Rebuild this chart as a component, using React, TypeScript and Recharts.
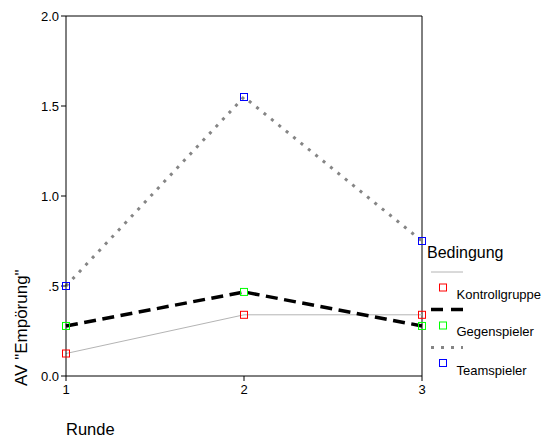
import React from "react";
import { LineChart, Line, XAxis, YAxis, ReferenceLine, Label } from "recharts";

const rounds = [1, 2, 3];
const kontrollgruppe = [0.125, 0.34, 0.34];
const gegenspieler = [0.278, 0.467, 0.278];
const teamspieler = [0.5, 1.55, 0.75];
const yTicks = [0, 0.5, 1, 1.5, 2];
const xTicks = [1, 2, 3];

const FONT = "'Liberation Sans', Arial, sans-serif";

const data = rounds.map((r, i) => ({
  runde: r,
  Kontrollgruppe: kontrollgruppe[i],
  Gegenspieler: gegenspieler[i],
  Teamspieler: teamspieler[i],
}));

const squareDot = (color: string) => (props: any) => {
  const { cx, cy, index } = props;
  if (cx == null || cy == null) return <g key={index} />;
  return (
    <rect key={index} x={cx - 3.5} y={cy - 3.5} width={7} height={7} fill="none" stroke={color} strokeWidth={1} />
  );
};

const fmtY = (v: number) => (v === 0.5 ? ".5" : v.toFixed(1));

function LegendBox() {
  return (
    <svg width={544} height={437} style={{ position: "absolute", left: 0, top: 0, pointerEvents: "none" }}>
      <text x={427} y={258} fontSize={16} fontFamily={FONT} fill="#000">Bedingung</text>
      <line x1={431} x2={463} y1={272} y2={272} stroke="#b4b4b4" strokeWidth={1} />
      <rect x={439.5} y={284} width={7} height={7} fill="none" stroke="#ff0000" />
      <text x={456.5} y={299} fontSize={13} fontFamily={FONT} fill="#000">Kontrollgruppe</text>
      <line x1={431} x2={463} y1={309.5} y2={309.5} stroke="#000" strokeWidth={3.5} strokeDasharray="12 8" />
      <rect x={439.5} y={322} width={7} height={7} fill="none" stroke="#00ff00" />
      <text x={456.5} y={336} fontSize={13} fontFamily={FONT} fill="#000">Gegenspieler</text>
      <line x1={431} x2={463} y1={347.5} y2={347.5} stroke="#858585" strokeWidth={3} strokeDasharray="3 7" />
      <rect x={439.5} y={359.5} width={7} height={7} fill="none" stroke="#0000ff" />
      <text x={456.5} y={374.5} fontSize={13} fontFamily={FONT} fill="#000">Teamspieler</text>
    </svg>
  );
}

export default function App() {
  return (
    <div style={{ position: "absolute", left: 0, top: 0, width: 544, height: 437, background: "#fff" }}>
      <LineChart width={544} height={437} data={data} margin={{ top: 16, right: 122, bottom: 0, left: 0 }}>
        <XAxis
          dataKey="runde"
          type="number"
          domain={[1, 3]}
          ticks={xTicks}
          height={61}
          axisLine={{ stroke: "#000" }}
          tickLine={{ stroke: "#000" }}
          tickSize={5}
          tickMargin={4}
          tick={{ fill: "#000", fontSize: 13, fontFamily: FONT }}
        >
          <Label
            content={() => (
              <text x={66} y={435} fontSize={16.5} fontFamily={FONT} fill="#000">
                Runde
              </text>
            )}
          />
        </XAxis>
        <YAxis
          type="number"
          domain={[0, 2]}
          ticks={yTicks}
          width={66}
          tickFormatter={fmtY}
          axisLine={{ stroke: "#000" }}
          tickLine={{ stroke: "#000" }}
          tickSize={5}
          tick={{ fill: "#000", fontSize: 13, fontFamily: FONT }}
        >
          <Label
            content={() => {
              const x = 27;
              const y = 386;
              return (
                <text x={x} y={y} transform={`rotate(-90 ${x} ${y})`} fontSize={17} fontFamily={FONT} fill="#000">
                  AV "Empörung"
                </text>
              );
            }}
          />
        </YAxis>
        <ReferenceLine y={2} stroke="#000" strokeWidth={1} />
        <ReferenceLine x={3} stroke="#000" strokeWidth={1} />
        <Line
          dataKey="Kontrollgruppe"
          stroke="#b4b4b4"
          strokeWidth={1}
          dot={squareDot("#ff0000")}
          activeDot={false}
          isAnimationActive={false}
        />
        <Line
          dataKey="Gegenspieler"
          stroke="#000"
          strokeWidth={3.5}
          strokeDasharray="12 6.5"
          dot={squareDot("#00ff00")}
          activeDot={false}
          isAnimationActive={false}
        />
        <Line
          dataKey="Teamspieler"
          stroke="#858585"
          strokeWidth={3}
          strokeDasharray="3 6.5"
          dot={squareDot("#0000ff")}
          activeDot={false}
          isAnimationActive={false}
        />
      </LineChart>
      <LegendBox />
    </div>
  );
}
